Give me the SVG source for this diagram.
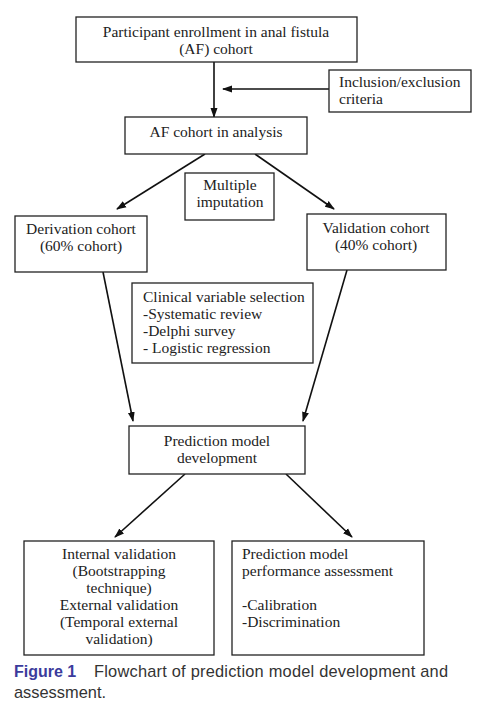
<svg xmlns="http://www.w3.org/2000/svg" width="478" height="705" viewBox="0 0 478 705">
<style>
.box{fill:#fff;stroke:#222;stroke-width:1.3}
.t{font-family:"Liberation Serif","Times New Roman",serif;font-size:15.5px;fill:#222}
.c{text-anchor:middle}
.edge{stroke:#111;stroke-width:1.6;fill:none;marker-end:url(#ah)}
.cap{font-family:"Liberation Sans",Arial,sans-serif;font-size:16.4px;fill:#333}
</style>
<defs>
<marker id="ah" markerWidth="10" markerHeight="8" refX="9" refY="4" orient="auto" markerUnits="userSpaceOnUse">
<path d="M0,0.5 L10,4 L0,7.5 Z" fill="#111"/>
</marker>
</defs>
<rect width="478" height="705" fill="#fff"/>
<g id="connectors">
<line class="edge" x1="214" y1="62" x2="214" y2="117"/>
<line class="edge" x1="329" y1="89" x2="223" y2="89"/>
<line class="edge" x1="205" y1="154" x2="117" y2="209"/>
<line class="edge" x1="255" y1="154" x2="334" y2="209"/>
<line class="edge" x1="103" y1="272" x2="133" y2="421"/>
<line class="edge" x1="347" y1="270" x2="303" y2="421"/>
<line class="edge" x1="185" y1="474" x2="115" y2="537"/>
<line class="edge" x1="286" y1="474" x2="352" y2="537"/>
</g>
<g id="enrollment">
<rect class="box" x="76" y="17" width="281" height="45"/>
<text class="t c" x="216" y="37">Participant enrollment in anal fistula</text>
<text class="t c" x="216" y="54">(AF) cohort</text>
</g>
<g id="criteria">
<rect class="box" x="329" y="70" width="142" height="42"/>
<text class="t" x="339" y="87">Inclusion/exclusion</text>
<text class="t" x="339" y="104">criteria</text>
</g>
<g id="analysis">
<rect class="box" x="125" y="117" width="182" height="37"/>
<text class="t c" x="216" y="137">AF cohort in analysis</text>
</g>
<g id="imputation">
<rect class="box" x="185" y="173" width="89" height="47"/>
<text class="t c" x="230" y="190">Multiple</text>
<text class="t c" x="230" y="207">imputation</text>
</g>
<g id="derivation">
<rect class="box" x="15" y="216" width="132" height="56"/>
<text class="t c" x="81" y="234">Derivation cohort</text>
<text class="t c" x="81" y="251">(60% cohort)</text>
</g>
<g id="validation">
<rect class="box" x="307" y="214" width="139" height="56"/>
<text class="t c" x="376" y="233">Validation cohort</text>
<text class="t c" x="376" y="250">(40% cohort)</text>
</g>
<g id="selection">
<rect class="box" x="132" y="283" width="181" height="80"/>
<text class="t" x="143" y="302">Clinical variable selection</text>
<text class="t" x="143" y="319">-Systematic review</text>
<text class="t" x="143" y="336">-Delphi survey</text>
<text class="t" x="143" y="353">- Logistic regression</text>
</g>
<g id="development">
<rect class="box" x="129" y="426" width="176" height="48"/>
<text class="t c" x="217" y="446">Prediction model</text>
<text class="t c" x="217" y="463">development</text>
</g>
<g id="internal">
<rect class="box" x="24" y="541" width="190" height="114"/>
<text class="t c" x="119" y="559">Internal validation</text>
<text class="t c" x="119" y="576">(Bootstrapping</text>
<text class="t c" x="119" y="593">technique)</text>
<text class="t c" x="119" y="610">External validation</text>
<text class="t c" x="119" y="627">(Temporal external</text>
<text class="t c" x="119" y="644">validation)</text>
</g>
<g id="performance">
<rect class="box" x="232" y="541" width="192" height="114"/>
<text class="t" x="242" y="559">Prediction model</text>
<text class="t" x="242" y="576">performance assessment</text>
<text class="t" x="242" y="610">-Calibration</text>
<text class="t" x="242" y="627">-Discrimination</text>
</g>
<g id="caption">
<text class="cap" x="14" y="677"><tspan font-weight="bold" fill="#3b3b9c" font-size="16px">Figure 1</tspan><tspan x="94" textLength="354" lengthAdjust="spacing">Flowchart of prediction model development and</tspan></text>
<text class="cap" x="14" y="698">assessment.</text>
</g>
</svg>
